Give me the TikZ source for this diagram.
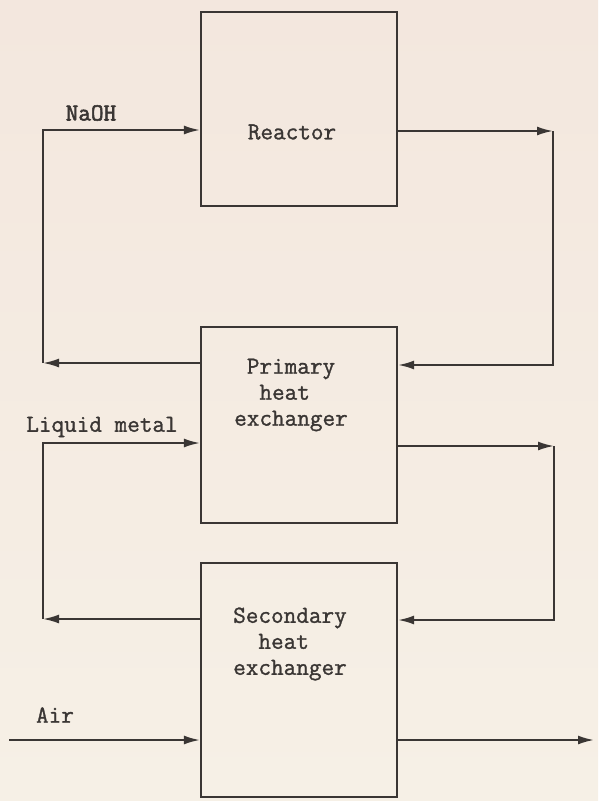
\documentclass[tikz,border=0pt]{standalone}
\usepackage{fontspec}
\usetikzlibrary{arrows.meta}
\newfontfamily\typer{Latin Modern Mono}[FakeBold=1.2]
\newfontfamily\typerbold{Latin Modern Mono}[FakeBold=2.2]

\definecolor{paper}{RGB}{246,240,230}
\definecolor{paperpink}{RGB}{243,231,222}
\definecolor{ink}{RGB}{58,54,52}

\begin{document}
\begin{tikzpicture}[x=1pt, y=-1pt,
        unitbox/.style={rectangle, draw=ink, line width=2.2pt, minimum width=196pt, inner sep=0pt},
        tag/.style={font=\typer\fontsize{24.5}{26}\selectfont, text=ink, align=center, inner sep=0pt},
        flow/.style={draw=ink, line width=2pt, -{Latex[length=16pt,width=9pt]}},
        ]
                \shade[top color=paperpink, bottom color=paper] (0,0) rectangle (598,801);
                \useasboundingbox (0,0) rectangle (598,801);

                % the three units
                \node[unitbox, minimum height=194pt] at (299,109) (reactor) {};
                \node[unitbox, minimum height=196pt] at (299,425) (primary) {};
                \node[unitbox, minimum height=234pt] at (299,680) (secondary) {};

                \node[tag] at (292,132) (reactorname) {Reactor};
                \node[tag] at (291,395) (primaryname) {Primary\\heat\phantom{a}\\exchanger};
                \node[tag] at (290,644) (secondaryname) {Secondary\\heat\phantom{a}\\exchanger};

                \node[tag, font=\typerbold\fontsize{24.5}{26}\selectfont] at (91,113) (naoh) {NaOH};
                \node[tag] at (102,427) (liquid) {Liquid metal};
                \node[tag] at (55,715) (air) {Air};

                % corners of the loops
                \coordinate (ret1) at (43,363);
                \coordinate (top1) at (43,130);
                \coordinate (out1) at (553,131);
                \coordinate (in1)  at (553,365);
                \coordinate (out2) at (554,446);
                \coordinate (in2)  at (554,620);
                \coordinate (ret2) at (43,619);
                \coordinate (lm)   at (43,443);
                \coordinate (airin)  at (9,740);
                \coordinate (airout) at (594,740);

                \draw[flow] (ret1 -| primary.west) -- (ret1);
                \draw[flow] (ret1) -- (top1) -- (top1 -| reactor.west);
                \draw[flow] (out1 -| reactor.east) -- (out1);
                \draw[flow] (out1) -- (in1) -- (in1 -| primary.east);
                \draw[flow] (out2 -| primary.east) -- (out2);
                \draw[flow] (out2) -- (in2) -- (in2 -| secondary.east);
                \draw[flow] (ret2 -| secondary.west) -- (ret2);
                \draw[flow] (ret2) -- (lm) -- (lm -| primary.west);
                \draw[flow] (airin) -- (airin -| secondary.west);
                \draw[flow] (airout -| secondary.east) -- (airout);

            \end{tikzpicture}
\end{document}
